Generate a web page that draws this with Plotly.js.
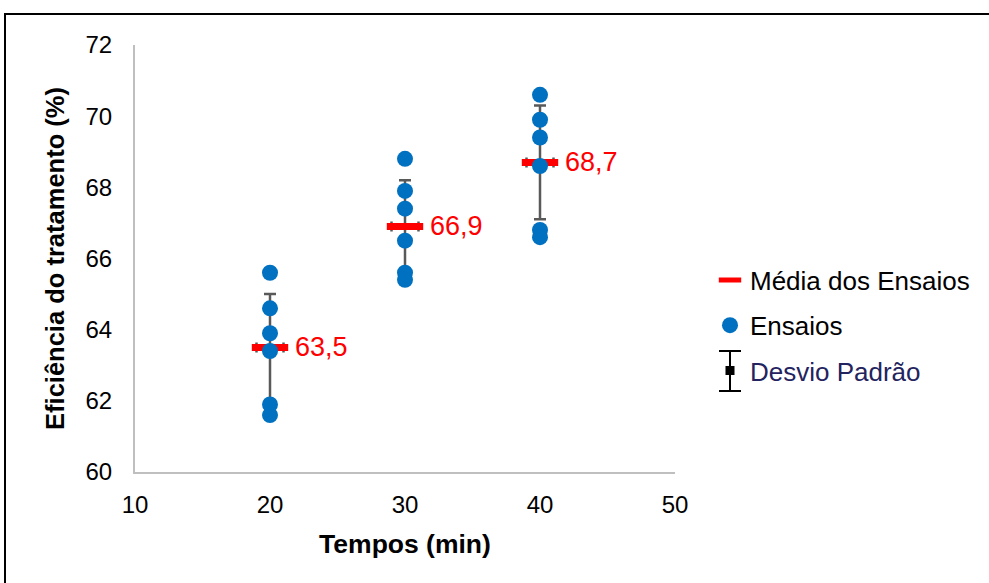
<!DOCTYPE html>
<html>
<head>
<meta charset="utf-8">
<script src="https://cdn.plot.ly/plotly-3.0.1.min.js"></script>
<style>html,body{margin:0;padding:0;background:#fff;}#chart{width:989px;height:583px;}</style>
</head>
<body>
<div id="chart"></div>
<script>
// ---- data ----
const tempos = [20, 30, 40];
const ensaios20 = [65.6, 64.6, 63.9, 63.4, 61.9, 61.6];
const ensaios30 = [68.8, 67.9, 67.4, 66.5, 65.6, 65.4];
const ensaios40 = [70.6, 69.9, 69.4, 68.6, 66.8, 66.6];
const medias = [63.5, 66.9, 68.7];
const desvios = [1.5, 1.3, 1.6];
const xErro = 1;
const rotulos = ["63,5", "66,9", "68,7"];
const xTicks = [10, 20, 30, 40, 50];
const yTicks = [60, 62, 64, 66, 68, 70, 72];

const ensX = [].concat(ensaios20.map(() => tempos[0]), ensaios30.map(() => tempos[1]), ensaios40.map(() => tempos[2]));
const ensY = [].concat(ensaios20, ensaios30, ensaios40);

const FONT = "Liberation Sans, Arial, sans-serif";
const W = 989, H = 583;
const L = 135, R = 314, T = 45, B = 111;
const PW = W - L - R, PH = H - T - B;
const px = v => (v - L) / PW;
const py = v => (H - B - v) / PH;

const traceMedia = {
  type: 'scatter', mode: 'markers', name: 'Média dos Ensaios',
  x: tempos, y: medias, legendgroup: 'a',
  marker: { symbol: 'line-ew', size: 26, color: '#FF0000', line: { color: '#FF0000', width: 7 } },
  error_y: { type: 'data', array: desvios, visible: true, color: '#595959', thickness: 2.5, width: 6 },
  error_x: { type: 'constant', value: xErro, visible: true, color: '#595959', thickness: 2.5, width: 5 },
  hoverinfo: 'x+y'
};
const traceEns = {
  type: 'scatter', mode: 'markers', name: 'Ensaios',
  x: ensX, y: ensY, legendgroup: 'b',
  marker: { symbol: 'circle', size: 16, color: '#0070C0' }
};
const traceDP = {
  type: 'scatter', mode: 'markers', name: '<span style="color:#232360">Desvio Padrão</span>',
  x: [null], y: [null], legendgroup: 'c',
  marker: { symbol: 'square', size: 9, color: '#000000' }
};

const annotations = tempos.map((t, i) => ({
  x: t, y: medias[i], xref: 'x', yref: 'y', text: rotulos[i], showarrow: false,
  xanchor: 'left', yanchor: 'middle', xshift: 23,
  font: { family: FONT, size: 27, color: '#FF0000' }
}));

const shapes = [
  // outer frame
  { type: 'rect', xref: 'paper', yref: 'paper', x0: px(5), x1: px(1000), y0: py(600), y1: py(14), line: { color: '#000', width: 2 } },
  // legend error-bar icon
  { type: 'line', xref: 'paper', yref: 'paper', x0: px(730), x1: px(730), y0: py(351), y1: py(391), line: { color: '#000', width: 2 } },
  { type: 'line', xref: 'paper', yref: 'paper', x0: px(719), x1: px(741), y0: py(351), y1: py(351), line: { color: '#000', width: 2 } },
  { type: 'line', xref: 'paper', yref: 'paper', x0: px(719), x1: px(741), y0: py(391), y1: py(391), line: { color: '#000', width: 2 } }
];

const layout = {
  width: W, height: H,
  margin: { l: L, r: R, t: T, b: B, pad: 0 },
  paper_bgcolor: '#fff', plot_bgcolor: '#fff',
  font: { family: FONT, color: '#000', size: 24 },
  showlegend: true,
  legend: {
    x: px(710), xanchor: 'left', y: py(325.5), yanchor: 'middle',
    font: { family: FONT, size: 26, color: '#000' },
    tracegroupgap: 8.5, traceorder: 'grouped', bgcolor: 'rgba(0,0,0,0)'
  },
  xaxis: {
    range: [10, 50], tickvals: xTicks, ticktext: xTicks.map(String), showgrid: false, zeroline: false,
    showline: true, linecolor: '#BFBFBF', linewidth: 2, ticks: '', ticklabelstandoff: 10,
    tickfont: { family: FONT, size: 24, color: '#000' },
    title: { text: 'Tempos (min)', font: { family: FONT, size: 26.5, color: '#000', weight: 'bold' }, standoff: 18 },
    automargin: false
  },
  yaxis: {
    range: [60, 72], tickvals: yTicks, ticktext: yTicks.map(String), showgrid: false, zeroline: false,
    showline: true, linecolor: '#BFBFBF', linewidth: 2, ticks: '', ticklabelstandoff: 16,
    tickfont: { family: FONT, size: 24, color: '#000' },
    title: { text: 'Eficiência do tratamento (%)', font: { family: FONT, size: 25.5, color: '#000', weight: 'bold' }, standoff: 14 },
    automargin: false
  },
  annotations: annotations,
  shapes: shapes
};

Plotly.newPlot('chart', [traceMedia, traceEns, traceDP], layout, { displayModeBar: false, staticPlot: true });
</script>
</body>
</html>
